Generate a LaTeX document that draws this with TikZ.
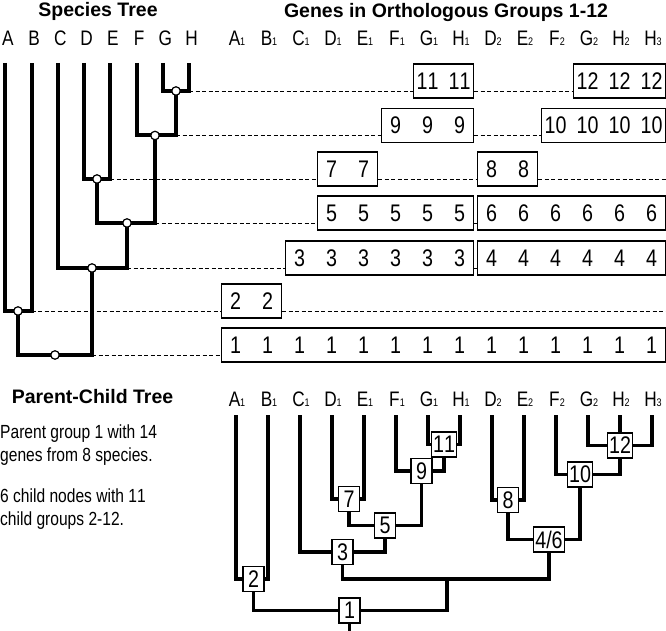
\documentclass[tikz,border=0pt]{standalone}
\usepackage{fontspec}
\setmainfont{Liberation Sans}
\newfontfamily\nrw{Liberation Sans}[FakeStretch=0.82, Ligatures=NoCommon, Kerning=Off]
\usepackage{tikz}
\newcommand{\gsub}[1]{{\fontsize{11}{11}\selectfont #1}}

\begin{document}
\begin{tikzpicture}[x=1pt, y=-1pt,
  sptree/.style={line width=4pt},
  pctree/.style={line width=3.2pt},
  dsh/.style={line width=0.9pt, dash pattern=on 4pt off 2.5pt},
  grp/.style={draw, line width=1.2pt, fill=white, minimum height=34pt, inner sep=0pt},
  num/.style={font=\nrw\fontsize{24}{24}\selectfont, inner sep=0pt},
  pcbox/.style={draw, line width=1.3pt, fill=white, minimum width=21pt, minimum height=25pt, inner xsep=1.5pt, inner ysep=0pt, font=\nrw\fontsize{24}{24}\selectfont},
  joint/.style={draw, circle, line width=1.2pt, fill=white, inner sep=0pt, minimum size=8.5pt},
  lbl/.style={font=\nrw\fontsize{21}{21}\selectfont, anchor=base, inner sep=0pt},
  ttl/.style={font=\bfseries\fontsize{19.5}{19.5}\selectfont, anchor=base, inner sep=0pt},
  txt/.style={font=\nrw\fontsize{19}{19}\selectfont, anchor=base west, inner sep=0pt}]
\useasboundingbox (0,0) rectangle (666,631);
\coordinate (rim) at (666,0);

\node[ttl] (ttlsp) at (98,17) {Species Tree};
\node[ttl] (ttlgn) at (446,17.5) {Genes in Orthologous Groups 1-12};
\node[ttl] (ttlpc) at (92.5,403) {Parent-Child Tree};

\node[txt] (t1) at (0,438) {Parent group 1 with 14};
\node[txt] (t2) at (0,461) {genes from 8 species.};
\node[txt] (t3) at (0,502) {6 child nodes with 11};
\node[txt] (t4) at (0,525) {child groups 2-12.};

\foreach \s [count=\k from 0] in {A,B,C,D,E,F,G,H} {
  \node[lbl] (sp\s) at ({7.8+26.25*\k},46) {\s};
  \coordinate (l\s) at ({5.3+26.25*\k},63);
}

\foreach \s/\n [count=\i from 0] in {A/1,B/1,C/1,D/1,E/1,F/1,G/1,H/1,D/2,E/2,F/2,G/2,H/2,H/3} {
  \node[lbl] (ct\i) at ({237+32*\i},46) {\s\gsub{\n}};
  \node[lbl] (cb\i) at ({237+32*\i},406.5) {\s\gsub{\n}};
  \coordinate (g\i) at ({236+32*\i},415);
}

\foreach \r/\a/\b/\y in {11/6/7/91, 12/11/13/91, 9/5/7/135.5, 10/10/13/135.5, 7/3/4/179, 8/8/9/179, 5/3/7/223, 6/8/13/223, 3/2/7/268, 4/8/13/268, 2/0/1/311, 1/0/13/355} {
  \node[grp, minimum width={32*(\b-\a)+28}] (b\r) at ({235.5+16*(\a+\b)},{\y-10}) {};
  \foreach \i in {\a,...,\b}
    \node[num] (n\r-\i) at ({235.5+32*\i},{\y-10}) {\r};
}

\coordinate (gh) at (176,91);
\coordinate (fgh) at (155,135.5);
\coordinate (de) at (97,179);
\coordinate (dfgh) at (127,223);
\coordinate (cdfgh) at (92,268);
\coordinate (ab) at (18,311);
\coordinate (root) at (55,355);

\draw[dsh] (lH |- gh) -- (b11.west |- gh) (b11.east |- gh) -- (b12.west |- gh);
\draw[dsh] (gh |- fgh) -- (b9.west |- fgh) (b9.east |- fgh) -- (b10.west |- fgh);
\draw[dsh] (lE |- de) -- (b7.west |- de) (b7.east |- de) -- (b8.west |- de) (b8.east |- de) -- (rim |- de);
\draw[dsh] (fgh |- dfgh) -- (b5.west |- dfgh) (b5.east |- dfgh) -- (b6.west |- dfgh);
\draw[dsh] (dfgh |- cdfgh) -- (b3.west |- cdfgh) (b3.east |- cdfgh) -- (b4.west |- cdfgh);
\draw[dsh] (lB |- ab) -- (b2.west |- ab) (b2.east |- ab) -- (rim |- ab);
\draw[dsh] (cdfgh |- root) -- (b1.west |- root);

\draw[sptree] (lG) |- (gh) -| (lH);
\draw[sptree] (lF) |- (fgh) -| (gh);
\draw[sptree] (lD) |- (de) -| (lE);
\draw[sptree] (de) |- (dfgh) -| (fgh);
\draw[sptree] (lC) |- (cdfgh) -| (dfgh);
\draw[sptree] (lA) |- (ab) -| (lB);
\draw[sptree] (ab) |- (root) -| (cdfgh);
\foreach \j in {gh,fgh,de,dfgh,cdfgh,ab,root}
  \node[joint] (j\j) at (\j) {};

\node[pcbox] (p11) at (444,444.5) {11};
\node[pcbox] (p9) at (421.5,471) {9};
\node[pcbox] (p7) at (349,499) {7};
\node[pcbox] (p5) at (385,525.5) {5};
\node[pcbox] (p3) at (342.5,552) {3};
\node[pcbox] (p8) at (508,500) {8};
\node[pcbox] (p46) at (549,539.5) {4/6};
\node[pcbox] (p10) at (580,474.5) {10};
\node[pcbox] (p12) at (620,445.5) {12};
\node[pcbox] (p2) at (253.5,579) {2};
\node[pcbox] (p1) at (349.5,610.5) {1};
\coordinate (j36) at (447,579);
\coordinate (rootend) at (349.5,631);

\draw[pctree] (g6) |- (p11.west) (g7) |- (p11.east);
\draw[pctree] (g5) |- (p9.west) (p11.south) |- (p9.east);
\draw[pctree] (g3) |- (p7.west) (g4) |- (p7.east);
\draw[pctree] (p7.south) |- (p5.west) (p9.south) |- (p5.east);
\draw[pctree] (g2) |- (p3.west) (p5.south) |- (p3.east);
\draw[pctree] (g8) |- (p8.west) (g9) |- (p8.east);
\draw[pctree] (g11) |- (p12.west) (g13) |- (p12.east) (g12) -- (p12.north);
\draw[pctree] (g10) |- (p10.west) (p12.south) |- (p10.east);
\draw[pctree] (p8.south) |- (p46.west) (p10.south) |- (p46.east);
\draw[pctree] (p3.south) |- (j36) -| (p46.south);
\draw[pctree] (j36) |- (p1.east);
\draw[pctree] (g0) |- (p2.west) (g1) |- (p2.east);
\draw[pctree] (p2.south) |- (p1.west);
\draw[pctree] (p1.south) -- (rootend);
\end{tikzpicture}
\end{document}
